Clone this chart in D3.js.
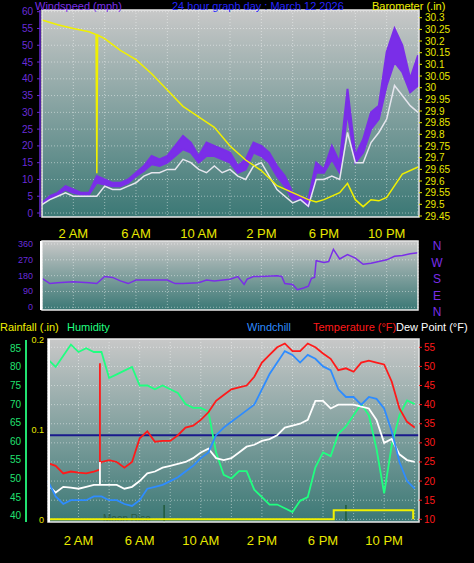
<!DOCTYPE html>
<html><head><meta charset="utf-8">
<script src="https://cdn.jsdelivr.net/npm/d3@7"></script>
<style>body{margin:0;background:#000}svg{display:block}</style>
</head><body><svg id="c" width="474" height="563"></svg>
<script>
// ---- data (hour of day, value) ----
const hourLabels = ["2 AM","6 AM","10 AM","2 PM","6 PM","10 PM"];
const hourTicks = [2,6,10,14,18,22];
const halfHours = d3.range(0,24.01,0.5);
const gust = [3,5,6,8,7,6,6,11,10,9,9,10,12,14,17,16,17,20,23,21,17,21,20,19,18,14,16,21,20,18,14,11,6,5,4,15,13,20,15,37,17,22,30,32,48,55,50,40,47];
const windAvg = [3,4.5,5.5,7,6,5.5,5.5,9,8.5,8,8,9,11,12.5,14.5,14,15,17,19,18,15,17,17,16,15,12,13,18,17,15,11,8,4,4,2,12,12,16,12,30,15,18,25,28,38,45,42,36,38];
const windWhite = [2.5,4,5,6,5,5,5,5,8,7,7,8,9,11,12,12,13,13,16,15,13,12,14,12,13,11,10,14,15,11,7,5,3,4,2,10,10,11,10,24,15,15,21,24,28,38,35,32,30];
const baroH = [0,1,2,3,3.45,3.5,3.55,4,5,6,7,8,9,10,11,12,13,14,15,16,17,17.5,18,19,19.5,20,20.5,21,21.5,22,23,24];
const baro = [30.29,30.27,30.254,30.24,30.228,29.633,30.226,30.21,30.16,30.12,30.06,29.99,29.92,29.875,29.83,29.75,29.69,29.645,29.58,29.55,29.52,29.51,29.52,29.55,29.59,29.52,29.49,29.52,29.515,29.53,29.63,29.66];
const dirH = [0,0.5,1,2,3,3.5,4,4.5,5,5.5,6,7,8,8.5,9,10,10.5,11,12,12.5,12.9,13.1,13.5,14,15,15.3,15.5,16,16.3,16.7,17,17.2,17.4,17.5,18,18.3,18.6,19,19.5,20,20.5,21,21.5,22,22.5,23,23.5,24];
const dir = [165,135,140,145,140,135,175,170,150,135,155,155,155,135,135,140,155,150,160,175,130,160,175,175,180,175,135,130,100,110,120,165,170,265,255,260,330,275,300,280,245,250,260,270,290,295,305,310];
const humidity = [82,80,83,86,84,85,84,84,77,78,79,80,75,75,74,75,74,73,70,69,69,68,57,51,50,52,52,47,45,43,43,42,41,44,45,53,57,56,62,64,67,70,67,58,46,59,67,71,70];
const temperature = [24.7,24,22,22.5,22.2,22,22.5,25,25.5,25,23.5,25,31.2,33,30.3,30.5,30.5,32,34,34.5,36,38,41,42.5,44,44.5,45,47.3,51,53,55,56,54,54,56,55,53.4,52,49,49.5,48.6,51,51.5,51,50.5,46,39,35.5,34];
const windchill = [20,16,14,15,15,15,16,16,15,15,14,13.5,15,18,18.5,19,20,21,22.5,24,26,27.5,32,34,35.5,37,38.5,40,44,48,51,54,53,51,53,52,50,49,44,42,42,40,42,41.5,39,33,25,20,18];
const dewpoint = [19,17,18.5,18.3,18,18.5,19,19,19,19,18,18.5,20,22,22.5,23.5,24,24.5,25,26,27.5,28.5,26,25.5,26,27.5,29,29.5,30.5,31,32,34,34.5,35,36,41,41,39,40,40,40,39.5,39,36,30,31,27,25.5,25];
const spikeH = 3.4, tempSpike = 50.8, dewSpike = 25;
const rainH = [0,18.7,18.7,23.9,23.9];
const rain = [0,0,0.01,0.01,0];
const windTicks = d3.range(0,61,5);
const baroTicks = d3.range(29.45,30.31,0.05).map(v=>+v.toFixed(2));
const dirTicks = [0,90,180,270,360];
const dirLabels = ["N","W","S","E","N"];
const humTicks = d3.range(40,86,5);
const tempTicks = d3.range(10,56,5);
const rainTicks = [0,0.1,0.2];

const svg = d3.select("#c");
const defs = svg.append("defs");
const g = defs.append("linearGradient").attr("id","bg").attr("x1",0).attr("y1",0).attr("x2",0).attr("y2",1);
g.append("stop").attr("offset","0%").attr("stop-color","#c8c8c8");
g.append("stop").attr("offset","100%").attr("stop-color","#3b7875");
const F = "Arial, Liberation Sans, sans-serif";

function panel(x0,x1,y0,y1){
  svg.append("rect").attr("x",x0).attr("y",y0).attr("width",x1-x0).attr("height",y1-y0).attr("fill","url(#bg)");
}
function grid(x, y, ticksY, x0,x1,y0,y1){
  const gg = svg.append("g").attr("stroke","#ffffff").attr("stroke-opacity",0.45).attr("stroke-dasharray","1,2");
  d3.range(0,25,2).forEach(h=>gg.append("line").attr("x1",x(h)).attr("x2",x(h)).attr("y1",y0).attr("y2",y1));
  ticksY.forEach(t=>gg.append("line").attr("x1",x0).attr("x2",x1).attr("y1",y(t)).attr("y2",y(t)));
}
function frame(x0,x1,y0,y1){
  svg.append("rect").attr("x",x0).attr("y",y0).attr("width",x1-x0).attr("height",y1-y0).attr("fill","none").attr("stroke","#e8e8e8").attr("stroke-width",1.5);
}
function line(xs,ys,x,y,color,w){
  const l = d3.line().x((d,i)=>x(xs[i])).y(d=>y(d));
  svg.append("path").attr("d",l(ys)).attr("fill","none").attr("stroke",color).attr("stroke-width",w||1.5);
}
function xLabels(x,yPos){
  hourTicks.forEach((h,i)=>svg.append("text").attr("x",x(h)).attr("y",yPos).attr("text-anchor","middle").attr("fill","#e8e800").attr("font-family",F).attr("font-size",13).text(hourLabels[i]));
}

// ---------- Top panel ----------
const xT = d3.scaleLinear().domain([0,24]).range([42,418]);
const yW = d3.scaleLinear().domain([0,60]).range([213,11.7]);
const yB = d3.scaleLinear().domain([29.45,30.3]).range([216,17.7]);
panel(42,419,10,217);
grid(xT,yW,windTicks,42,419,10,217);
const area = d3.area().x((d,i)=>xT(halfHours[i])).y0((d,i)=>yW(windAvg[i])).y1(d=>yW(d));
svg.append("path").attr("d",area(gust)).attr("fill","#7a2ee8").attr("stroke","#7a2ee8").attr("stroke-width",2);
line(halfHours,windWhite,xT,yW,"#e6e6ee",1.5);
line(baroH,baro,xT,yB,"#f0f000",1.5);
frame(42,419,10,217);
svg.append("line").attr("x1",40).attr("x2",40).attr("y1",10).attr("y2",217).attr("stroke","#6a2cd8").attr("stroke-width",1.5);
windTicks.forEach(t=>{
  svg.append("text").attr("x",33).attr("y",yW(t)+3.5).attr("text-anchor","end").attr("fill","#6a2cd8").attr("font-family",F).attr("font-size",10).text(t);
  svg.append("line").attr("x1",37).attr("x2",40).attr("y1",yW(t)).attr("y2",yW(t)).attr("stroke","#6a2cd8");
});
baroTicks.forEach(t=>{
  svg.append("text").attr("x",425).attr("y",yB(t)+3.5).attr("fill","#e8e800").attr("font-family",F).attr("font-size",10).text(t);
  svg.append("line").attr("x1",419).attr("x2",422).attr("y1",yB(t)).attr("y2",yB(t)).attr("stroke","#e8e800");
});
svg.append("text").attr("x",35).attr("y",10).attr("fill","#7a2ee8").attr("font-family",F).attr("font-size",11).text("Windspeed (mph)");
svg.append("text").attr("x",172).attr("y",10).attr("fill","#2424ff").attr("font-family",F).attr("font-size",11).text("24 hour graph day : March 12 2026");
svg.append("text").attr("x",372).attr("y",10).attr("fill","#f0f000").attr("font-family",F).attr("font-size",11).text("Barometer (.in)");
xLabels(xT,238);

// ---------- Middle panel ----------
const yD = d3.scaleLinear().domain([0,360]).range([307.3,244]);
panel(42,418,241,310);
grid(xT,yD,dirTicks,42,418,241,310);
line(dirH,dir,xT,yD,"#7a2ee8",1.5);
frame(42,418,241,310);
svg.append("line").attr("x1",41).attr("x2",41).attr("y1",241).attr("y2",310).attr("stroke","#fff").attr("stroke-width",2);
dirTicks.forEach(t=>svg.append("text").attr("x",33).attr("y",yD(t)+3).attr("text-anchor","end").attr("fill","#6a2cd8").attr("font-family",F).attr("font-size",9).text(t));
dirLabels.forEach((s,i)=>svg.append("text").attr("x",437).attr("y",250+i*16.5).attr("text-anchor","middle").attr("fill","#7a2ee8").attr("font-family",F).attr("font-size",12).text(s));

// ---------- Bottom panel ----------
svg.append("text").attr("x",0).attr("y",331).attr("fill","#f0f000").attr("font-family",F).attr("font-size",11).text("Rainfall (.in)");
svg.append("text").attr("x",67).attr("y",331).attr("fill","#20ff80").attr("font-family",F).attr("font-size",11).text("Humidity");
svg.append("text").attr("x",247).attr("y",331).attr("fill","#2e8cff").attr("font-family",F).attr("font-size",11).text("Windchill");
svg.append("text").attr("x",313).attr("y",331).attr("fill","#ff1a1a").attr("font-family",F).attr("font-size",11).text("Temperature (°F)");
svg.append("text").attr("x",396).attr("y",331).attr("fill","#ffffff").attr("font-family",F).attr("font-size",11).text("Dew Point (°F)");
const xB = d3.scaleLinear().domain([0,24]).range([48,414.7]);
const yH = d3.scaleLinear().domain([40,85]).range([515.7,348.3]);
const yTm = d3.scaleLinear().domain([10,55]).range([519.3,347.3]);
const yR = d3.scaleLinear().domain([0,0.2]).range([519.3,339.3]);
panel(48,419,339,522);
grid(xB,yTm,tempTicks,48,419,339,522);
svg.append("line").attr("x1",48).attr("x2",419).attr("y1",yTm(32)).attr("y2",yTm(32)).attr("stroke","#1a1a8c").attr("stroke-width",2);
[7.6,19.5].forEach(h=>svg.append("line").attr("x1",xB(h)).attr("x2",xB(h)).attr("y1",505).attr("y2",523).attr("stroke","#1f5a3a").attr("stroke-width",1.5));
svg.append("text").attr("x",103).attr("y",522).attr("fill","#2a5a45").attr("font-family",F).attr("font-size",10).text("Moon Rise");
line(halfHours,humidity,xB,yH,"#20ff80",1.8);
const tH = halfHours.slice(0,7).concat([spikeH,spikeH,spikeH],halfHours.slice(7));
const tV = temperature.slice(0,7).concat([23,tempSpike,24.5],temperature.slice(7));
line(tH,tV,xB,yTm,"#ff1a1a",1.8);
const dV = dewpoint.slice(0,7).concat([19,dewSpike,19],dewpoint.slice(7));
line(tH,dV,xB,yTm,"#ffffff",1.8);
line(halfHours,windchill,xB,yTm,"#2e8cff",1.8);
line(rainH,rain,xB,yR,"#f0f000",2);
frame(48,419,339,522);
svg.append("line").attr("x1",49).attr("x2",49).attr("y1",339).attr("y2",522).attr("stroke","#fff").attr("stroke-width",2);
svg.append("line").attr("x1",26).attr("x2",26).attr("y1",340).attr("y2",522).attr("stroke","#20e070").attr("stroke-width",2);
humTicks.forEach(t=>svg.append("text").attr("x",21).attr("y",yH(t)+3.5).attr("text-anchor","end").attr("fill","#20e070").attr("font-family",F).attr("font-size",10).text(t));
rainTicks.forEach(t=>svg.append("text").attr("x",44).attr("y",yR(t)+3.5).attr("text-anchor","end").attr("fill","#e8e800").attr("font-family",F).attr("font-size",9).text(t));
tempTicks.forEach(t=>{
  svg.append("text").attr("x",424).attr("y",yTm(t)+3.5).attr("fill","#ff1a1a").attr("font-family",F).attr("font-size",10).text(t);
  svg.append("line").attr("x1",419).attr("x2",422).attr("y1",yTm(t)).attr("y2",yTm(t)).attr("stroke","#ff1a1a");
});
xLabels(xB,545);
</script></body></html>
